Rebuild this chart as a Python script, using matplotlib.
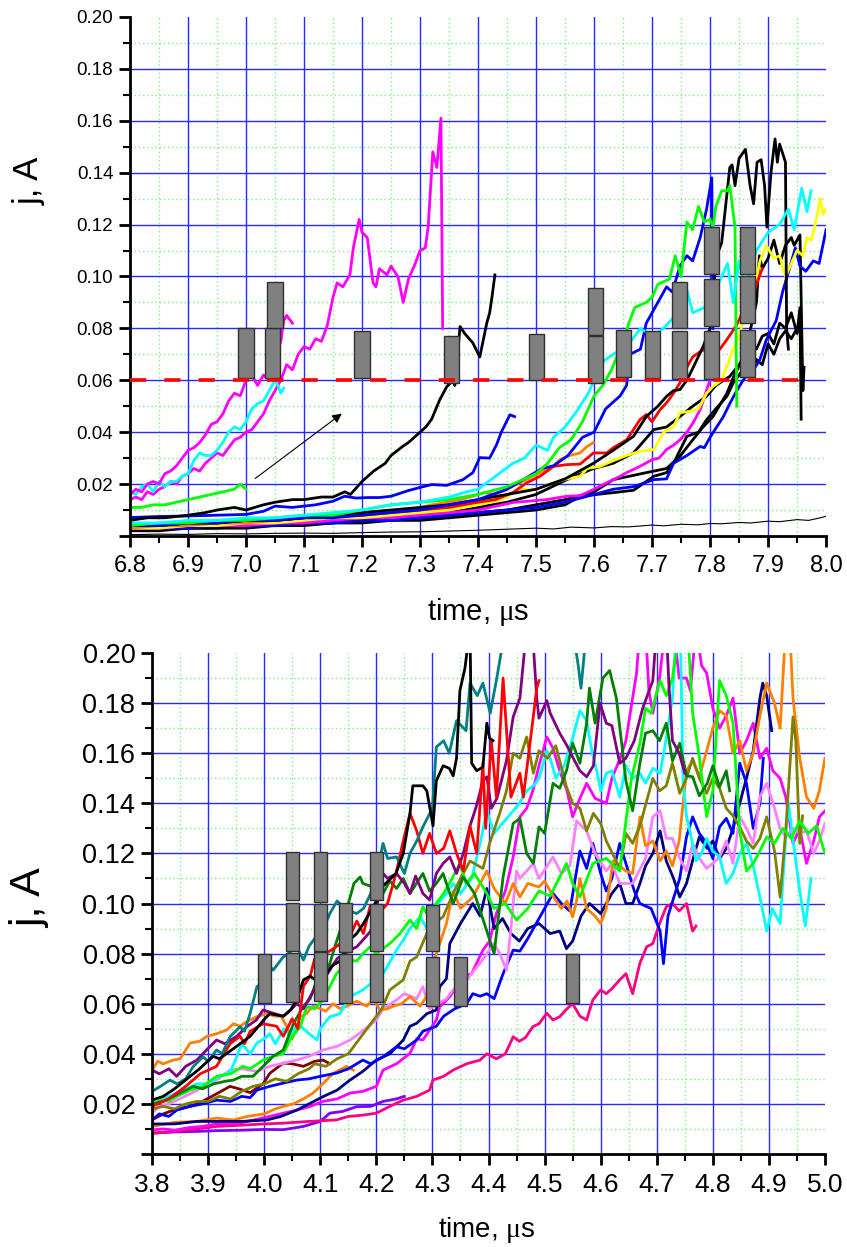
import numpy as np
import matplotlib
matplotlib.use("Agg")
import matplotlib.pyplot as plt
from matplotlib.ticker import MultipleLocator, FuncFormatter
from matplotlib.patches import Rectangle

plt.rcParams['font.family'] = ['Liberation Sans', 'DejaVu Sans']
plt.rcParams['mathtext.fontset'] = 'custom'
plt.rcParams['mathtext.rm'] = 'Liberation Serif'

# ---------------- upper panel data (time in us, current in A) ----------------
top_thin = [(6.80, 0.0005), (6.85, 0.0007), (6.90, 0.0006), (6.95, 0.0009), (7.00, 0.0008), (7.05, 0.0010),
            (7.10, 0.0011), (7.15, 0.0010), (7.20, 0.0013), (7.25, 0.0015), (7.30, 0.0016), (7.35, 0.0019),
            (7.40, 0.0022), (7.45, 0.0026), (7.50, 0.0030), (7.53, 0.0027), (7.56, 0.0034), (7.60, 0.0031),
            (7.63, 0.0036), (7.66, 0.0035), (7.70, 0.0042), (7.72, 0.0039), (7.75, 0.0045), (7.78, 0.0043),
            (7.80, 0.0048), (7.82, 0.0047), (7.85, 0.0052), (7.87, 0.0050), (7.90, 0.0057), (7.92, 0.0055),
            (7.95, 0.0063), (7.97, 0.0060), (7.99, 0.0070), (8.00, 0.0076)]

top_magenta_a = [(6.80, 0.016), (6.81, 0.018), (6.82, 0.017), (6.83, 0.020), (6.84, 0.021), (6.85, 0.020),
                 (6.86, 0.024), (6.87, 0.025), (6.88, 0.027), (6.89, 0.030), (6.90, 0.033), (6.91, 0.034),
                 (6.92, 0.036), (6.93, 0.039), (6.94, 0.043), (6.95, 0.044), (6.96, 0.047), (6.97, 0.052),
                 (6.98, 0.055), (6.99, 0.054), (7.00, 0.060), (7.01, 0.062), (7.02, 0.058), (7.03, 0.062),
                 (7.04, 0.060), (7.05, 0.066), (7.055, 0.072), (7.06, 0.075), (7.065, 0.083), (7.07, 0.085),
                 (7.08, 0.082)]

top_magenta_b = [(6.80, 0.014), (6.81, 0.015), (6.82, 0.014), (6.83, 0.017), (6.84, 0.016), (6.85, 0.018),
                 (6.86, 0.019), (6.87, 0.021), (6.88, 0.020), (6.89, 0.023), (6.90, 0.024), (6.91, 0.026),
                 (6.92, 0.025), (6.93, 0.028), (6.94, 0.030), (6.95, 0.032), (6.96, 0.031), (6.97, 0.034),
                 (6.98, 0.037), (6.99, 0.038), (7.00, 0.040), (7.01, 0.041), (7.02, 0.044), (7.03, 0.047),
                 (7.04, 0.052), (7.05, 0.056), (7.06, 0.060), (7.07, 0.066), (7.08, 0.064), (7.09, 0.070),
                 (7.10, 0.073), (7.11, 0.072), (7.12, 0.076), (7.13, 0.075), (7.14, 0.081), (7.15, 0.092),
                 (7.157, 0.0975), (7.167, 0.096), (7.179, 0.1006), (7.185, 0.111), (7.195, 0.122), (7.20, 0.117),
                 (7.209, 0.115), (7.219, 0.0975), (7.224, 0.096), (7.23, 0.103), (7.243, 0.1006), (7.25, 0.104),
                 (7.262, 0.0998), (7.271, 0.090), (7.28, 0.099), (7.29, 0.104), (7.30, 0.110), (7.309, 0.111),
                 (7.314, 0.119), (7.322, 0.148), (7.329, 0.142), (7.336, 0.161), (7.339, 0.080)]

top_cyan_a = [(6.80, 0.017), (6.81, 0.016), (6.82, 0.019), (6.83, 0.020), (6.84, 0.017), (6.85, 0.021),
              (6.86, 0.019), (6.87, 0.021), (6.88, 0.021), (6.89, 0.023), (6.90, 0.024), (6.91, 0.029),
              (6.92, 0.032), (6.93, 0.031), (6.94, 0.031), (6.95, 0.033), (6.96, 0.036), (6.97, 0.040),
              (6.98, 0.042), (6.99, 0.041), (7.00, 0.044), (7.01, 0.049), (7.02, 0.051), (7.03, 0.052),
              (7.04, 0.056), (7.05, 0.060), (7.055, 0.058), (7.06, 0.055), (7.065, 0.057)]

top_green_a = [(6.80, 0.011), (6.82, 0.011), (6.84, 0.012), (6.86, 0.012), (6.88, 0.013), (6.90, 0.014),
               (6.92, 0.015), (6.94, 0.016), (6.96, 0.017), (6.98, 0.018), (6.99, 0.020), (7.00, 0.018)]

top_black_a = [(6.80, 0.006), (6.83, 0.007), (6.86, 0.007), (6.90, 0.008), (6.93, 0.009), (6.95, 0.010),
               (6.98, 0.011), (7.00, 0.010), (7.03, 0.012), (7.05, 0.013), (7.08, 0.014), (7.10, 0.014),
               (7.13, 0.015), (7.15, 0.015), (7.17, 0.017), (7.18, 0.016), (7.20, 0.021), (7.22, 0.025),
               (7.24, 0.028), (7.25, 0.031), (7.27, 0.0345), (7.28, 0.036), (7.30, 0.040), (7.31, 0.042),
               (7.32, 0.045), (7.334, 0.0525), (7.346, 0.0575), (7.357, 0.060), (7.36, 0.058), (7.369, 0.0807),
               (7.377, 0.078), (7.391, 0.0744), (7.403, 0.069), (7.415, 0.082), (7.42, 0.086), (7.424, 0.092),
               (7.429, 0.1006)]

top_blue_a = [(6.80, 0.0071), (6.85, 0.0075), (6.90, 0.0077), (6.95, 0.008), (7.00, 0.0083), (7.03, 0.0095),
              (7.05, 0.0115), (7.08, 0.011), (7.10, 0.0115), (7.12, 0.012), (7.15, 0.0134), (7.17, 0.0153),
              (7.19, 0.0146), (7.21, 0.0148), (7.23, 0.0148), (7.25, 0.0153), (7.28, 0.0175), (7.30, 0.0187),
              (7.32, 0.0198), (7.346, 0.0195), (7.374, 0.0217), (7.391, 0.0244), (7.403, 0.0302), (7.42, 0.030),
              (7.432, 0.0352), (7.44, 0.040), (7.455, 0.0467), (7.463, 0.046)]

top_cyan_b = [(6.80, 0.005), (6.85, 0.005), (6.90, 0.006), (6.95, 0.006), (7.00, 0.007), (7.05, 0.007),
              (7.10, 0.008), (7.15, 0.009), (7.20, 0.010), (7.25, 0.012), (7.30, 0.013), (7.35, 0.015),
              (7.38, 0.017), (7.40, 0.018), (7.43, 0.023), (7.46, 0.028), (7.48, 0.030), (7.50, 0.035),
              (7.52, 0.033), (7.53, 0.038), (7.55, 0.042), (7.57, 0.048), (7.59, 0.055), (7.60, 0.060),
              (7.61, 0.066), (7.62, 0.068), (7.64, 0.071), (7.66, 0.074), (7.68, 0.080), (7.70, 0.077),
              (7.72, 0.080), (7.74, 0.085), (7.76, 0.095), (7.77, 0.086), (7.79, 0.088), (7.81, 0.095),
              (7.83, 0.105), (7.84, 0.090), (7.85, 0.106), (7.86, 0.096), (7.88, 0.110), (7.90, 0.117),
              (7.92, 0.120), (7.935, 0.126), (7.945, 0.118), (7.958, 0.134), (7.967, 0.125), (7.974, 0.133)]

top_green_b = [(6.80, 0.004), (6.85, 0.005), (6.90, 0.005), (6.95, 0.006), (7.00, 0.006), (7.05, 0.007),
               (7.10, 0.008), (7.15, 0.008), (7.20, 0.010), (7.25, 0.012), (7.30, 0.013), (7.35, 0.014),
               (7.40, 0.016), (7.45, 0.019), (7.48, 0.022), (7.50, 0.024), (7.52, 0.028), (7.54, 0.034),
               (7.56, 0.037), (7.58, 0.044), (7.60, 0.054), (7.615, 0.058), (7.63, 0.064), (7.65, 0.075),
               (7.66, 0.082), (7.67, 0.088), (7.69, 0.090), (7.70, 0.092), (7.71, 0.097), (7.73, 0.099),
               (7.74, 0.108), (7.75, 0.100), (7.76, 0.121), (7.77, 0.118), (7.78, 0.127), (7.79, 0.121),
               (7.80, 0.122), (7.805, 0.119), (7.81, 0.127), (7.82, 0.133), (7.83, 0.133), (7.834, 0.135),
               (7.843, 0.119), (7.846, 0.050)]

top_blue_b = [(6.80, 0.004), (6.85, 0.004), (6.90, 0.005), (6.95, 0.005), (7.00, 0.006), (7.05, 0.006),
              (7.10, 0.007), (7.15, 0.007), (7.20, 0.008), (7.25, 0.009), (7.30, 0.010), (7.35, 0.012),
              (7.40, 0.014), (7.45, 0.018), (7.48, 0.022), (7.51, 0.026), (7.53, 0.027), (7.555, 0.031),
              (7.58, 0.038), (7.60, 0.040), (7.62, 0.049), (7.645, 0.054), (7.656, 0.058), (7.662, 0.070),
              (7.68, 0.072), (7.69, 0.082), (7.70, 0.086), (7.725, 0.096), (7.735, 0.094), (7.748, 0.104),
              (7.76, 0.108), (7.77, 0.106), (7.783, 0.115), (7.794, 0.126), (7.803, 0.138), (7.805, 0.080)]

top_red = [(6.80, 0.004), (6.85, 0.004), (6.90, 0.005), (6.95, 0.005), (7.00, 0.006), (7.05, 0.006),
           (7.10, 0.007), (7.15, 0.008), (7.20, 0.008), (7.25, 0.009), (7.30, 0.010), (7.35, 0.011),
           (7.40, 0.013), (7.43, 0.014), (7.46, 0.0167), (7.484, 0.0205), (7.507, 0.023), (7.53, 0.0268),
           (7.553, 0.0275), (7.576, 0.0277), (7.599, 0.032), (7.622, 0.032), (7.633, 0.034), (7.656, 0.037),
           (7.668, 0.041), (7.679, 0.0448), (7.69, 0.0468), (7.70, 0.044), (7.714, 0.0487), (7.725, 0.0513),
           (7.737, 0.055), (7.748, 0.059), (7.76, 0.065), (7.77, 0.069), (7.783, 0.071), (7.80, 0.073),
           (7.817, 0.072), (7.83, 0.076), (7.845, 0.081), (7.86, 0.088), (7.875, 0.093), (7.88, 0.097),
           (7.89, 0.103)]

top_orange = [(6.80, 0.003), (6.85, 0.004), (6.90, 0.004), (6.95, 0.005), (7.00, 0.005), (7.05, 0.006),
              (7.10, 0.007), (7.15, 0.008), (7.20, 0.009), (7.231, 0.009), (7.26, 0.010), (7.288, 0.0102),
              (7.32, 0.012), (7.346, 0.0129), (7.37, 0.014), (7.391, 0.0153), (7.41, 0.0167), (7.43, 0.016),
              (7.449, 0.0179), (7.472, 0.0205), (7.495, 0.023), (7.518, 0.0256), (7.53, 0.027), (7.541, 0.0294),
              (7.558, 0.031), (7.576, 0.032), (7.588, 0.0345), (7.599, 0.036)]

top_yellow = [(6.80, 0.003), (6.85, 0.003), (6.90, 0.004), (6.95, 0.004), (7.00, 0.005), (7.05, 0.005),
              (7.10, 0.006), (7.15, 0.007), (7.20, 0.007), (7.25, 0.008), (7.30, 0.009), (7.35, 0.010),
              (7.40, 0.012), (7.44, 0.014), (7.472, 0.0179), (7.50, 0.018), (7.53, 0.0205), (7.553, 0.022),
              (7.576, 0.023), (7.588, 0.026), (7.61, 0.0268), (7.633, 0.029), (7.656, 0.031), (7.679, 0.0326),
              (7.703, 0.0333), (7.72, 0.040), (7.737, 0.042), (7.748, 0.0475), (7.765, 0.048), (7.78, 0.049),
              (7.794, 0.055), (7.805, 0.0576), (7.82, 0.060), (7.83, 0.066), (7.84, 0.072), (7.85, 0.077),
              (7.86, 0.085), (7.87, 0.092), (7.88, 0.099), (7.886, 0.106), (7.897, 0.112), (7.91, 0.107),
              (7.92, 0.108), (7.93, 0.100), (7.938, 0.104), (7.95, 0.110), (7.96, 0.108), (7.967, 0.115),
              (7.975, 0.114), (7.985, 0.124), (7.99, 0.130), (7.995, 0.124), (8.00, 0.126)]

top_magenta_c = [(6.80, 0.003), (6.85, 0.003), (6.90, 0.004), (6.95, 0.004), (7.00, 0.004), (7.05, 0.005),
                 (7.10, 0.005), (7.15, 0.006), (7.20, 0.007), (7.25, 0.007), (7.30, 0.008), (7.35, 0.009),
                 (7.40, 0.010), (7.46, 0.0129), (7.518, 0.014), (7.553, 0.0153), (7.576, 0.0155), (7.599, 0.0179),
                 (7.622, 0.0205), (7.645, 0.023), (7.656, 0.0244), (7.679, 0.0268), (7.70, 0.0294), (7.712, 0.030),
                 (7.725, 0.0333), (7.737, 0.035), (7.748, 0.037), (7.76, 0.040), (7.771, 0.0437), (7.783, 0.0487),
                 (7.788, 0.052), (7.796, 0.0576), (7.80, 0.060)]

top_blue_c = [(6.80, 0.003), (6.85, 0.003), (6.90, 0.003), (6.95, 0.004), (7.00, 0.004), (7.05, 0.004),
              (7.10, 0.005), (7.15, 0.005), (7.20, 0.006), (7.25, 0.006), (7.30, 0.007), (7.35, 0.008),
              (7.40, 0.009), (7.45, 0.010), (7.50, 0.011), (7.55, 0.013), (7.60, 0.016), (7.633, 0.018),
              (7.668, 0.019), (7.703, 0.0217), (7.725, 0.022), (7.737, 0.028), (7.76, 0.031), (7.783, 0.0345),
              (7.79, 0.034), (7.80, 0.038), (7.81, 0.0415), (7.823, 0.046), (7.834, 0.051), (7.846, 0.056),
              (7.857, 0.060), (7.864, 0.062), (7.875, 0.064), (7.886, 0.068), (7.897, 0.0756), (7.914, 0.083),
              (7.925, 0.094), (7.938, 0.104), (7.947, 0.111), (7.955, 0.104), (7.965, 0.102), (7.978, 0.106),
              (7.988, 0.105), (8.00, 0.118)]

top_black_b = [(6.80, 0.004), (6.85, 0.004), (6.90, 0.005), (6.95, 0.005), (7.00, 0.006), (7.05, 0.006),
               (7.10, 0.007), (7.15, 0.008), (7.20, 0.009), (7.25, 0.010), (7.30, 0.011), (7.35, 0.012),
               (7.40, 0.014), (7.45, 0.016), (7.50, 0.018), (7.55, 0.022), (7.599, 0.028), (7.633, 0.033),
               (7.668, 0.0384), (7.69, 0.046), (7.71, 0.050), (7.725, 0.0538), (7.737, 0.056), (7.748, 0.0564),
               (7.76, 0.060), (7.771, 0.065), (7.788, 0.073), (7.80, 0.080), (7.811, 0.1076), (7.82, 0.113),
               (7.834, 0.142), (7.838, 0.143), (7.843, 0.135), (7.85, 0.1455), (7.861, 0.149), (7.869, 0.135),
               (7.875, 0.128), (7.881, 0.144), (7.888, 0.145), (7.894, 0.135), (7.898, 0.119), (7.905, 0.140),
               (7.912, 0.153), (7.916, 0.144), (7.92, 0.151), (7.93, 0.144), (7.932, 0.080), (7.935, 0.072)]

top_black_c = [(6.80, 0.003), (6.85, 0.003), (6.90, 0.004), (6.95, 0.004), (7.00, 0.005), (7.05, 0.005),
               (7.10, 0.006), (7.15, 0.006), (7.20, 0.007), (7.25, 0.007), (7.30, 0.008), (7.35, 0.009),
               (7.40, 0.011), (7.45, 0.013), (7.50, 0.016), (7.553, 0.0217), (7.599, 0.026), (7.633, 0.028),
               (7.668, 0.032), (7.703, 0.041), (7.725, 0.042), (7.748, 0.046), (7.77, 0.050), (7.794, 0.0538),
               (7.81, 0.058), (7.834, 0.0615), (7.85, 0.066), (7.86, 0.068), (7.87, 0.073), (7.88, 0.072),
               (7.89, 0.077), (7.90, 0.078), (7.91, 0.074), (7.92, 0.082), (7.93, 0.080), (7.94, 0.086),
               (7.95, 0.078), (7.955, 0.088), (7.957, 0.045)]

top_black_d = [(6.80, 0.002), (6.85, 0.003), (6.90, 0.003), (6.95, 0.003), (7.00, 0.004), (7.05, 0.004),
               (7.10, 0.005), (7.15, 0.005), (7.20, 0.006), (7.25, 0.006), (7.30, 0.007), (7.35, 0.008),
               (7.40, 0.009), (7.45, 0.010), (7.50, 0.012), (7.55, 0.014), (7.60, 0.017), (7.633, 0.0217),
               (7.69, 0.0244), (7.725, 0.026), (7.748, 0.0307), (7.77, 0.037), (7.788, 0.042), (7.805, 0.046),
               (7.829, 0.055), (7.84, 0.061), (7.855, 0.068), (7.87, 0.080), (7.88, 0.090), (7.885, 0.108),
               (7.89, 0.103), (7.90, 0.107), (7.91, 0.114), (7.92, 0.105), (7.93, 0.112), (7.94, 0.115),
               (7.945, 0.112), (7.955, 0.116), (7.96, 0.056), (7.962, 0.065)]

top_black_e = [(6.80, 0.002), (6.85, 0.002), (6.90, 0.003), (6.95, 0.003), (7.00, 0.003), (7.05, 0.004),
               (7.10, 0.004), (7.15, 0.005), (7.20, 0.005), (7.25, 0.006), (7.30, 0.006), (7.35, 0.007),
               (7.40, 0.008), (7.45, 0.009), (7.50, 0.010), (7.55, 0.012), (7.576, 0.0153), (7.633, 0.0167),
               (7.668, 0.0176), (7.703, 0.023), (7.725, 0.0244), (7.737, 0.028), (7.76, 0.0384), (7.78, 0.040),
               (7.794, 0.0448), (7.81, 0.049), (7.829, 0.0538), (7.84, 0.059), (7.86, 0.065), (7.87, 0.062),
               (7.88, 0.068), (7.89, 0.066), (7.90, 0.074), (7.91, 0.070), (7.92, 0.076), (7.93, 0.079),
               (7.94, 0.076), (7.95, 0.080)]

# gray markers: (centre time, bottom, top)
top_boxes = [(7.000, 0.061, 0.080), (7.045, 0.061, 0.080), (7.050, 0.080, 0.098), (7.200, 0.061, 0.079),
             (7.355, 0.059, 0.077), (7.500, 0.060, 0.078), (7.603, 0.0775, 0.0955), (7.603, 0.059, 0.077),
             (7.651, 0.0614, 0.0795), (7.700, 0.061, 0.079), (7.748, 0.080, 0.098), (7.748, 0.0606, 0.079),
             (7.803, 0.101, 0.119), (7.803, 0.081, 0.099), (7.803, 0.0606, 0.079), (7.865, 0.101, 0.119),
             (7.865, 0.082, 0.100), (7.865, 0.0614, 0.0795)]
top_threshold = 0.06

# ---------------- lower panel data ----------------
bot_teal = [(3.80, 0.025), (3.815, 0.027), (3.832, 0.0295), (3.845, 0.028), (3.86, 0.030), (3.873, 0.0348),
            (3.891, 0.0388), (3.90, 0.037), (3.915, 0.0415), (3.925, 0.040), (3.939, 0.0468), (3.957, 0.0508),
            (3.965, 0.049), (3.975, 0.0562), (3.987, 0.0668), (3.99, 0.067), (4.001, 0.0774), (4.016, 0.0734),
            (4.034, 0.0787), (4.04, 0.0795), (4.058, 0.0827), (4.07, 0.0774), (4.08, 0.083), (4.09, 0.086),
            (4.105, 0.0894), (4.117, 0.096), (4.13, 0.101), (4.141, 0.0987), (4.152, 0.097), (4.165, 0.096),
            (4.177, 0.098), (4.19, 0.104), (4.20, 0.112), (4.212, 0.124), (4.22, 0.118), (4.236, 0.1186),
            (4.25, 0.112), (4.26, 0.120), (4.272, 0.125), (4.283, 0.1306), (4.30, 0.138), (4.307, 0.1625),
            (4.32, 0.165), (4.33, 0.160), (4.343, 0.173), (4.36, 0.169), (4.367, 0.188), (4.38, 0.183),
            (4.39, 0.188), (4.403, 0.176), (4.414, 0.189), (4.43, 0.21), (4.55, 0.21), (4.56, 0.195),
            (4.565, 0.186), (4.575, 0.21)]

bot_black = [(3.80, 0.0215), (3.82, 0.023), (3.84, 0.026), (3.868, 0.031), (3.882, 0.0335), (3.909, 0.039),
             (3.92, 0.038), (3.951, 0.043), (3.975, 0.047), (3.999, 0.0535), (4.01, 0.056), (4.034, 0.055),
             (4.047, 0.0575), (4.058, 0.0615), (4.07, 0.0695), (4.082, 0.071), (4.10, 0.068), (4.12, 0.075),
             (4.135, 0.077), (4.15, 0.085), (4.165, 0.088), (4.177, 0.092), (4.19, 0.097), (4.20, 0.101),
             (4.212, 0.107), (4.235, 0.112), (4.248, 0.120), (4.26, 0.136), (4.265, 0.147), (4.283, 0.147),
             (4.29, 0.145), (4.301, 0.131), (4.307, 0.149), (4.319, 0.155), (4.33, 0.154), (4.337, 0.151),
             (4.343, 0.158), (4.349, 0.185), (4.358, 0.194), (4.367, 0.21), (4.37, 0.156), (4.379, 0.153),
             (4.39, 0.1545), (4.397, 0.172), (4.402, 0.166), (4.408, 0.165)]

bot_red = [(3.80, 0.019), (3.83, 0.022), (3.86, 0.027), (3.886, 0.032), (3.915, 0.035), (3.939, 0.044),
           (3.957, 0.047), (3.965, 0.044), (3.975, 0.049), (3.998, 0.052), (4.022, 0.051), (4.034, 0.047),
           (4.05, 0.054), (4.06, 0.050), (4.07, 0.067), (4.082, 0.071), (4.09, 0.078), (4.11, 0.080),
           (4.13, 0.083), (4.153, 0.087), (4.165, 0.093), (4.177, 0.088), (4.189, 0.099), (4.204, 0.096),
           (4.22, 0.100), (4.235, 0.112), (4.248, 0.125), (4.26, 0.136), (4.272, 0.129), (4.283, 0.120),
           (4.295, 0.128), (4.307, 0.120), (4.32, 0.122), (4.331, 0.129), (4.343, 0.120), (4.355, 0.113),
           (4.367, 0.131), (4.379, 0.120), (4.39, 0.156), (4.395, 0.130), (4.405, 0.165), (4.414, 0.1425),
           (4.426, 0.190), (4.44, 0.1425), (4.456, 0.152), (4.462, 0.1425), (4.479, 0.173), (4.486, 0.186),
           (4.49, 0.189)]

bot_purple = [(3.80, 0.0335), (3.813, 0.032), (3.83, 0.034), (3.844, 0.031), (3.86, 0.035), (3.88, 0.0375),
              (3.897, 0.0415), (3.915, 0.0455), (3.93, 0.044), (3.951, 0.047), (3.969, 0.0508), (3.986, 0.0535),
              (3.998, 0.0575), (4.016, 0.0562), (4.034, 0.055), (4.04, 0.056), (4.058, 0.060), (4.07, 0.058),
              (4.09, 0.066), (4.11, 0.071), (4.13, 0.078), (4.153, 0.0814), (4.165, 0.0827), (4.176, 0.0854),
              (4.19, 0.089), (4.20, 0.098), (4.212, 0.112), (4.22, 0.110), (4.236, 0.112), (4.25, 0.108),
              (4.26, 0.104), (4.27, 0.111), (4.283, 0.104), (4.295, 0.1014), (4.307, 0.112), (4.319, 0.116),
              (4.331, 0.1186), (4.343, 0.112), (4.355, 0.120), (4.367, 0.131), (4.378, 0.1386), (4.39, 0.149),
              (4.397, 0.1506), (4.405, 0.138), (4.415, 0.142), (4.432, 0.157), (4.444, 0.1745), (4.456, 0.182),
              (4.468, 0.21), (4.478, 0.21), (4.486, 0.182), (4.49, 0.174), (4.504, 0.181), (4.51, 0.176),
              (4.527, 0.168), (4.54, 0.163), (4.55, 0.1585), (4.563, 0.153), (4.575, 0.1506), (4.587, 0.155),
              (4.599, 0.180), (4.61, 0.172), (4.62, 0.171), (4.634, 0.156), (4.645, 0.158), (4.66, 0.165),
              (4.675, 0.178), (4.693, 0.189), (4.70, 0.21), (4.717, 0.21), (4.722, 0.186), (4.728, 0.165),
              (4.74, 0.160), (4.75, 0.152)]

bot_lime = [(3.80, 0.019), (3.815, 0.0215), (3.83, 0.021), (3.844, 0.023), (3.868, 0.0255), (3.89, 0.027),
            (3.915, 0.031), (3.94, 0.032), (3.962, 0.035), (3.975, 0.034), (3.998, 0.0375), (4.016, 0.039),
            (4.034, 0.040), (4.046, 0.0455), (4.064, 0.0508), (4.076, 0.0588), (4.09, 0.058), (4.105, 0.0615),
            (4.117, 0.0668), (4.129, 0.072), (4.153, 0.0774), (4.165, 0.077), (4.176, 0.080), (4.189, 0.0827),
            (4.20, 0.080), (4.224, 0.084), (4.242, 0.088), (4.26, 0.0934), (4.272, 0.090), (4.283, 0.0987),
            (4.29, 0.096), (4.30, 0.098), (4.32, 0.104), (4.335, 0.110), (4.349, 0.116), (4.36, 0.108),
            (4.375, 0.112), (4.397, 0.104), (4.41, 0.098), (4.43, 0.100), (4.45, 0.0934), (4.47, 0.098),
            (4.49, 0.105), (4.51, 0.103), (4.539, 0.116), (4.55, 0.108), (4.563, 0.1026), (4.586, 0.116),
            (4.61, 0.118), (4.634, 0.113), (4.646, 0.1346), (4.655, 0.150), (4.67, 0.164), (4.68, 0.178),
            (4.69, 0.176), (4.706, 0.189), (4.717, 0.183), (4.728, 0.190), (4.74, 0.21), (4.755, 0.21),
            (4.764, 0.176), (4.775, 0.160), (4.789, 0.1346), (4.80, 0.145), (4.812, 0.189), (4.824, 0.183),
            (4.836, 0.172), (4.848, 0.129), (4.86, 0.113), (4.872, 0.116), (4.884, 0.121), (4.896, 0.1266),
            (4.91, 0.124), (4.925, 0.130), (4.94, 0.126), (4.955, 0.133), (4.97, 0.128), (4.985, 0.131),
            (5.00, 0.120)]

bot_dkgreen = [(3.80, 0.020), (3.82, 0.021), (3.838, 0.023), (3.856, 0.025), (3.874, 0.027), (3.89, 0.026),
               (3.91, 0.028), (3.93, 0.029), (3.945, 0.0295), (3.96, 0.031), (3.98, 0.031), (3.998, 0.035),
               (4.016, 0.039), (4.034, 0.0415), (4.052, 0.052), (4.07, 0.059), (4.082, 0.062), (4.094, 0.0695),
               (4.105, 0.072), (4.117, 0.076), (4.125, 0.082), (4.135, 0.089), (4.15, 0.100), (4.16, 0.108),
               (4.171, 0.1106), (4.176, 0.108), (4.194, 0.1066), (4.212, 0.104), (4.224, 0.109), (4.236, 0.106),
               (4.248, 0.110), (4.26, 0.104), (4.283, 0.112), (4.295, 0.105), (4.307, 0.108), (4.319, 0.112),
               (4.337, 0.100), (4.355, 0.1106), (4.375, 0.104), (4.397, 0.089), (4.41, 0.080), (4.426, 0.1106),
               (4.444, 0.132), (4.456, 0.134), (4.468, 0.120), (4.48, 0.116), (4.49, 0.1306), (4.50, 0.128),
               (4.515, 0.148), (4.527, 0.146), (4.539, 0.153), (4.55, 0.164), (4.563, 0.156), (4.575, 0.172),
               (4.58, 0.186), (4.59, 0.172), (4.604, 0.190), (4.616, 0.193), (4.628, 0.182), (4.639, 0.161),
               (4.645, 0.149), (4.657, 0.137), (4.67, 0.156), (4.68, 0.168), (4.693, 0.169), (4.705, 0.165),
               (4.717, 0.172), (4.728, 0.157), (4.741, 0.164), (4.753, 0.151), (4.764, 0.1506), (4.776, 0.143),
               (4.79, 0.148), (4.80, 0.155), (4.812, 0.1466), (4.824, 0.153), (4.83, 0.145)]

bot_olive = [(3.80, 0.018), (3.82, 0.019), (3.84, 0.018), (3.86, 0.020), (3.88, 0.021), (3.90, 0.021),
             (3.92, 0.023), (3.94, 0.022), (3.96, 0.025), (3.98, 0.027), (4.00, 0.028), (4.02, 0.030),
             (4.04, 0.029), (4.06, 0.032), (4.08, 0.034), (4.09, 0.036), (4.11, 0.035), (4.13, 0.038),
             (4.15, 0.040), (4.17, 0.046), (4.19, 0.052), (4.21, 0.058), (4.224, 0.0655), (4.248, 0.0695),
             (4.26, 0.077), (4.272, 0.0787), (4.295, 0.0907), (4.319, 0.0947), (4.337, 0.104), (4.35, 0.110),
             (4.367, 0.117), (4.39, 0.114), (4.402, 0.124), (4.42, 0.136), (4.432, 0.145), (4.444, 0.160),
             (4.456, 0.158), (4.468, 0.1665), (4.48, 0.152), (4.49, 0.161), (4.505, 0.158), (4.52, 0.163),
             (4.539, 0.1466), (4.55, 0.140), (4.563, 0.138), (4.575, 0.129), (4.587, 0.136), (4.60, 0.132),
             (4.61, 0.125), (4.634, 0.114), (4.645, 0.128), (4.657, 0.124), (4.67, 0.131), (4.693, 0.150),
             (4.705, 0.145), (4.717, 0.147), (4.728, 0.156), (4.741, 0.144), (4.753, 0.150), (4.764, 0.158),
             (4.776, 0.150), (4.789, 0.144), (4.80, 0.150), (4.812, 0.146), (4.824, 0.138), (4.836, 0.135),
             (4.848, 0.1306), (4.86, 0.125), (4.872, 0.122), (4.884, 0.126), (4.896, 0.1346), (4.91, 0.121),
             (4.92, 0.1026), (4.93, 0.129), (4.943, 0.1745), (4.948, 0.165), (4.955, 0.124), (4.96, 0.135)]

bot_cyan = [(3.80, 0.020), (3.82, 0.022), (3.84, 0.024), (3.86, 0.026), (3.88, 0.028), (3.90, 0.028),
            (3.92, 0.031), (3.94, 0.033), (3.951, 0.0388), (3.96, 0.044), (3.975, 0.040), (3.987, 0.0443),
            (4.00, 0.046), (4.01, 0.048), (4.02, 0.044), (4.035, 0.050), (4.046, 0.047), (4.06, 0.052),
            (4.075, 0.049), (4.094, 0.0455), (4.10, 0.050), (4.117, 0.0548), (4.135, 0.056), (4.153, 0.0628),
            (4.176, 0.0655), (4.19, 0.068), (4.212, 0.072), (4.22, 0.075), (4.236, 0.0814), (4.248, 0.0854),
            (4.26, 0.090), (4.278, 0.0947), (4.29, 0.090), (4.31, 0.100), (4.325, 0.104), (4.337, 0.108),
            (4.35, 0.104), (4.37, 0.110), (4.385, 0.124), (4.397, 0.137), (4.41, 0.128), (4.425, 0.132),
            (4.444, 0.137), (4.455, 0.140), (4.468, 0.145), (4.48, 0.147), (4.49, 0.150), (4.504, 0.161),
            (4.51, 0.158), (4.52, 0.150), (4.535, 0.155), (4.55, 0.166), (4.563, 0.177), (4.575, 0.173),
            (4.585, 0.160), (4.593, 0.153), (4.60, 0.145), (4.61, 0.152), (4.62, 0.153), (4.634, 0.1426),
            (4.645, 0.155), (4.657, 0.150), (4.67, 0.152), (4.68, 0.148), (4.693, 0.154), (4.706, 0.152),
            (4.717, 0.166), (4.728, 0.182), (4.735, 0.21), (4.742, 0.21), (4.747, 0.148), (4.753, 0.135),
            (4.76, 0.128), (4.77, 0.117), (4.78, 0.120), (4.789, 0.126), (4.80, 0.121), (4.812, 0.1186),
            (4.824, 0.108), (4.836, 0.112), (4.848, 0.120), (4.86, 0.124), (4.872, 0.115), (4.884, 0.1026),
            (4.896, 0.089), (4.906, 0.098), (4.92, 0.092), (4.93, 0.1266), (4.935, 0.140), (4.945, 0.122),
            (4.955, 0.105), (4.965, 0.091), (4.975, 0.110)]

bot_orange = [(3.80, 0.0335), (3.81, 0.037), (3.82, 0.036), (3.838, 0.0375), (3.85, 0.038), (3.868, 0.0443),
              (3.885, 0.045), (3.898, 0.047), (3.915, 0.048), (3.933, 0.0495), (3.945, 0.052), (3.957, 0.051),
              (3.97, 0.053), (3.987, 0.0548), (4.004, 0.056), (4.02, 0.055), (4.03, 0.055), (4.04, 0.051),
              (4.05, 0.046), (4.064, 0.0548), (4.075, 0.056), (4.087, 0.059), (4.10, 0.058), (4.11, 0.057),
              (4.123, 0.060), (4.135, 0.058), (4.147, 0.059), (4.165, 0.061), (4.183, 0.059), (4.195, 0.062),
              (4.206, 0.0575), (4.22, 0.058), (4.23, 0.059), (4.245, 0.060), (4.26, 0.0628), (4.278, 0.059),
              (4.29, 0.063), (4.301, 0.076), (4.313, 0.084), (4.325, 0.092), (4.337, 0.105), (4.35, 0.098),
              (4.372, 0.1026), (4.385, 0.108), (4.397, 0.113), (4.41, 0.106), (4.43, 0.100), (4.444, 0.108),
              (4.456, 0.1026), (4.47, 0.108), (4.49, 0.1066), (4.50, 0.109), (4.515, 0.103), (4.53, 0.098),
              (4.54, 0.101), (4.55, 0.0947), (4.557, 0.101), (4.563, 0.110), (4.575, 0.098), (4.59, 0.095),
              (4.60, 0.092), (4.61, 0.098), (4.622, 0.117), (4.634, 0.115), (4.645, 0.113), (4.657, 0.112),
              (4.67, 0.1346), (4.68, 0.123), (4.693, 0.125), (4.706, 0.117), (4.717, 0.121), (4.728, 0.115),
              (4.74, 0.125), (4.753, 0.153), (4.764, 0.157), (4.776, 0.1506), (4.789, 0.161), (4.80, 0.170),
              (4.812, 0.177), (4.824, 0.175), (4.836, 0.160), (4.848, 0.165), (4.86, 0.153), (4.872, 0.160),
              (4.884, 0.175), (4.896, 0.188), (4.91, 0.180), (4.92, 0.170), (4.93, 0.21), (4.937, 0.21),
              (4.943, 0.182), (4.955, 0.158), (4.967, 0.1426), (4.98, 0.138), (4.99, 0.145), (4.996, 0.153),
              (5.00, 0.158)]

bot_violet = [(3.80, 0.0163), (3.813, 0.019), (3.83, 0.020), (3.844, 0.0215), (3.868, 0.024), (3.891, 0.0268),
              (3.915, 0.0295), (3.939, 0.0335), (3.96, 0.034), (3.987, 0.033), (4.01, 0.035), (4.03, 0.036),
              (4.058, 0.0375), (4.08, 0.039), (4.105, 0.0415), (4.13, 0.043), (4.153, 0.0455), (4.175, 0.049),
              (4.20, 0.0535), (4.212, 0.058), (4.236, 0.0615), (4.25, 0.064), (4.272, 0.062), (4.283, 0.0668),
              (4.295, 0.058), (4.31, 0.060), (4.325, 0.062), (4.337, 0.0655), (4.361, 0.0695), (4.385, 0.0762),
              (4.397, 0.080), (4.41, 0.084), (4.42, 0.080), (4.432, 0.0734), (4.44, 0.090), (4.444, 0.100),
              (4.45, 0.113), (4.456, 0.110), (4.48, 0.116), (4.49, 0.110), (4.515, 0.1186), (4.53, 0.112),
              (4.545, 0.115), (4.557, 0.133), (4.575, 0.129), (4.59, 0.120), (4.61, 0.113), (4.62, 0.116),
              (4.634, 0.108), (4.657, 0.108), (4.68, 0.118), (4.693, 0.1346), (4.706, 0.137), (4.717, 0.126),
              (4.728, 0.126), (4.741, 0.118), (4.753, 0.113), (4.764, 0.124), (4.776, 0.118), (4.789, 0.114),
              (4.80, 0.116), (4.812, 0.1186), (4.824, 0.125), (4.836, 0.116), (4.848, 0.1346), (4.86, 0.130),
              (4.872, 0.124), (4.884, 0.1426), (4.896, 0.148), (4.91, 0.138), (4.92, 0.130), (4.93, 0.1266),
              (4.943, 0.130), (4.955, 0.128), (4.967, 0.129), (4.98, 0.120), (4.99, 0.125), (5.00, 0.132)]

bot_blue = [(3.80, 0.0136), (3.813, 0.016), (3.83, 0.015), (3.844, 0.0175), (3.868, 0.019), (3.89, 0.020),
            (3.915, 0.0215), (3.94, 0.021), (3.96, 0.023), (3.975, 0.0225), (3.987, 0.0255), (4.01, 0.027),
            (4.034, 0.0283), (4.058, 0.0295), (4.08, 0.030), (4.10, 0.031), (4.129, 0.0323), (4.15, 0.034),
            (4.176, 0.0375), (4.19, 0.036), (4.212, 0.0388), (4.236, 0.0428), (4.25, 0.042), (4.272, 0.0455),
            (4.283, 0.049), (4.307, 0.051), (4.32, 0.055), (4.34, 0.058), (4.361, 0.060), (4.372, 0.064),
            (4.385, 0.063), (4.397, 0.064), (4.41, 0.062), (4.426, 0.072), (4.444, 0.0814), (4.456, 0.081),
            (4.47, 0.086), (4.485, 0.092), (4.50, 0.098), (4.515, 0.104), (4.53, 0.100), (4.545, 0.097),
            (4.563, 0.121), (4.575, 0.114), (4.586, 0.124), (4.60, 0.112), (4.61, 0.105), (4.62, 0.110),
            (4.634, 0.124), (4.645, 0.116), (4.66, 0.105), (4.67, 0.100), (4.69, 0.098), (4.706, 0.089),
            (4.712, 0.076), (4.72, 0.095), (4.741, 0.110), (4.753, 0.1266), (4.764, 0.1346), (4.776, 0.128),
            (4.789, 0.124), (4.80, 0.118), (4.812, 0.1306), (4.824, 0.134), (4.836, 0.128), (4.848, 0.156),
            (4.86, 0.148), (4.872, 0.130), (4.884, 0.140), (4.89, 0.158)]

bot_navy = [(3.80, 0.012), (3.84, 0.012), (3.88, 0.013), (3.92, 0.013), (3.96, 0.013), (4.005, 0.0136),
            (4.03, 0.015), (4.058, 0.0175), (4.08, 0.020), (4.105, 0.0229), (4.13, 0.0255), (4.153, 0.0295),
            (4.176, 0.033), (4.20, 0.0375), (4.224, 0.040), (4.248, 0.0455), (4.26, 0.051), (4.272, 0.0522),
            (4.29, 0.056), (4.307, 0.0575), (4.313, 0.0668), (4.325, 0.070), (4.331, 0.084), (4.35, 0.092),
            (4.372, 0.100), (4.385, 0.095), (4.397, 0.106), (4.41, 0.090), (4.425, 0.094), (4.44, 0.088),
            (4.455, 0.085), (4.47, 0.090), (4.49, 0.092), (4.51, 0.088), (4.527, 0.089), (4.539, 0.082),
            (4.55, 0.085), (4.565, 0.095), (4.58, 0.100), (4.60, 0.096), (4.62, 0.104), (4.634, 0.108),
            (4.645, 0.100), (4.657, 0.100), (4.67, 0.108), (4.68, 0.115), (4.693, 0.120), (4.706, 0.129),
            (4.717, 0.117), (4.73, 0.110), (4.741, 0.1026), (4.753, 0.108), (4.765, 0.118), (4.776, 0.1266),
            (4.79, 0.122), (4.80, 0.125), (4.812, 0.118), (4.824, 0.122), (4.836, 0.130), (4.848, 0.140),
            (4.86, 0.150), (4.872, 0.161), (4.884, 0.182), (4.889, 0.188), (4.896, 0.183), (4.905, 0.169)]

bot_magenta = [(3.80, 0.0096), (3.82, 0.010), (3.84, 0.0095), (3.868, 0.0106), (3.89, 0.011), (3.915, 0.012),
               (3.94, 0.012), (3.962, 0.0126), (3.99, 0.014), (4.01, 0.015), (4.034, 0.0163), (4.058, 0.0175),
               (4.082, 0.019), (4.105, 0.021), (4.13, 0.022), (4.153, 0.0243), (4.176, 0.025), (4.20, 0.027),
               (4.212, 0.0335), (4.236, 0.036), (4.26, 0.0402), (4.272, 0.046), (4.283, 0.0455), (4.295, 0.0495),
               (4.307, 0.0535), (4.313, 0.0588), (4.331, 0.0628), (4.355, 0.0708), (4.37, 0.072), (4.39, 0.0814),
               (4.402, 0.085), (4.414, 0.096), (4.43, 0.105), (4.444, 0.1186), (4.456, 0.1346), (4.468, 0.138),
               (4.479, 0.145), (4.49, 0.155), (4.504, 0.1665), (4.515, 0.162), (4.527, 0.153), (4.54, 0.145),
               (4.55, 0.1346), (4.563, 0.142), (4.575, 0.148), (4.59, 0.142), (4.61, 0.140), (4.62, 0.150),
               (4.635, 0.158), (4.645, 0.165), (4.664, 0.192), (4.67, 0.21), (4.68, 0.21), (4.686, 0.185),
               (4.693, 0.176), (4.705, 0.190), (4.715, 0.21), (4.73, 0.21), (4.74, 0.190), (4.753, 0.190),
               (4.76, 0.185), (4.77, 0.21), (4.78, 0.195), (4.789, 0.192), (4.80, 0.178), (4.812, 0.170),
               (4.824, 0.175), (4.836, 0.182), (4.848, 0.160), (4.86, 0.165), (4.872, 0.172), (4.884, 0.158),
               (4.896, 0.162), (4.907, 0.153), (4.92, 0.150), (4.93, 0.1426), (4.943, 0.124), (4.955, 0.130),
               (4.967, 0.116), (4.98, 0.125), (4.99, 0.1346), (5.00, 0.137)]

bot_maroon = [(3.80, 0.0136), (3.82, 0.016), (3.844, 0.018), (3.868, 0.019), (3.89, 0.021), (3.915, 0.024),
              (3.939, 0.027), (3.955, 0.026), (3.975, 0.0245), (3.998, 0.028), (4.01, 0.0322), (4.034, 0.0363),
              (4.05, 0.036), (4.07, 0.035), (4.09, 0.037), (4.105, 0.0375), (4.117, 0.036)]

bot_deeppink = [(3.80, 0.0083), (3.84, 0.009), (3.88, 0.010), (3.915, 0.011), (3.96, 0.0115), (4.00, 0.012),
                (4.034, 0.0123), (4.08, 0.013), (4.129, 0.0136), (4.15, 0.015), (4.176, 0.0155), (4.20, 0.0163),
                (4.224, 0.019), (4.248, 0.0215), (4.272, 0.023), (4.295, 0.0255), (4.301, 0.0295), (4.32, 0.031),
                (4.337, 0.0335), (4.361, 0.036), (4.385, 0.0375), (4.397, 0.040), (4.414, 0.038), (4.43, 0.040),
                (4.444, 0.0468), (4.455, 0.045), (4.466, 0.0465), (4.479, 0.0508), (4.49, 0.052), (4.504, 0.0562),
                (4.515, 0.0535), (4.527, 0.0548), (4.54, 0.058), (4.55, 0.060), (4.563, 0.055), (4.575, 0.0535),
                (4.586, 0.0615), (4.60, 0.0655), (4.61, 0.064), (4.62, 0.066), (4.634, 0.0695), (4.645, 0.072),
                (4.657, 0.064), (4.67, 0.0762), (4.682, 0.0827), (4.693, 0.084), (4.705, 0.092), (4.717, 0.0987),
                (4.728, 0.100), (4.74, 0.097), (4.753, 0.100), (4.764, 0.089), (4.77, 0.091)]

bot_violet2 = [(3.80, 0.0083), (3.84, 0.0088), (3.88, 0.009), (3.915, 0.0093), (3.96, 0.0095), (4.00, 0.0098),
               (4.034, 0.0097), (4.07, 0.011), (4.10, 0.013), (4.117, 0.0163), (4.14, 0.017), (4.165, 0.0189),
               (4.19, 0.019), (4.212, 0.021), (4.236, 0.022), (4.25, 0.023)]

bot_orange2 = [(3.80, 0.011), (3.84, 0.0126), (3.88, 0.013), (3.915, 0.0143), (3.945, 0.0136), (3.97, 0.015),
               (4.00, 0.016), (4.02, 0.018), (4.034, 0.019), (4.052, 0.020), (4.07, 0.022), (4.087, 0.0243),
               (4.10, 0.027), (4.123, 0.0322), (4.147, 0.035), (4.159, 0.0335)]

bot_boxes = [(4.000, 0.0603, 0.0798), (4.050, 0.0608, 0.0804), (4.050, 0.081, 0.1003), (4.050, 0.1014, 0.1207),
             (4.100, 0.061, 0.0805), (4.100, 0.081, 0.100), (4.100, 0.1007, 0.1207), (4.145, 0.0603, 0.0797),
             (4.145, 0.0808, 0.1002), (4.200, 0.0605, 0.0797), (4.200, 0.081, 0.100), (4.200, 0.1014, 0.1207),
             (4.300, 0.0591, 0.0788), (4.300, 0.081, 0.0995), (4.350, 0.0591, 0.0788), (4.550, 0.0603, 0.0797)]


def setup(ax, x0, x1, xsize, ysize):
    ax.set_xlim(x0, x1)
    ax.set_ylim(0, 0.2)
    ax.xaxis.set_major_locator(MultipleLocator(0.1))
    ax.xaxis.set_minor_locator(MultipleLocator(0.05))
    ax.yaxis.set_major_locator(MultipleLocator(0.02))
    ax.yaxis.set_minor_locator(MultipleLocator(0.01))
    ax.yaxis.set_major_formatter(FuncFormatter(lambda v, p: '' if abs(v) < 1e-9 else '%.2f' % v))
    ax.xaxis.set_major_formatter(FuncFormatter(lambda v, p: '%.1f' % v))
    # grid drawn by hand so the lines on the top/right edge are left out
    for xv in np.arange(x0 + 0.05, x1 - 0.01, 0.05):
        major = abs(round(xv * 10) - xv * 10) < 1e-6
        if major:
            ax.axvline(xv, color='#2828ff', lw=1.0, zorder=0.5)
        else:
            ax.axvline(xv, color='#80f080', lw=1.0, ls=(0, (1, 2)), zorder=0.4)
    for yv in np.arange(0.01, 0.195, 0.01):
        if round(yv * 100) % 2 == 0:
            ax.axhline(yv, color='#2828ff', lw=1.0, zorder=0.5)
        else:
            ax.axhline(yv, color='#80f080', lw=1.0, ls=(0, (1, 2)), zorder=0.4)
    ax.spines['top'].set_visible(False)
    ax.spines['right'].set_visible(False)
    ax.spines['left'].set_linewidth(2)
    ax.spines['bottom'].set_linewidth(2)
    ax.tick_params(which='major', direction='out', length=8, width=2)
    ax.tick_params(which='minor', direction='out', length=5, width=1.5)
    ax.tick_params(axis='x', labelsize=xsize, pad=6)
    ax.tick_params(axis='y', labelsize=ysize, pad=4)


def draw(ax, pts, color, lw=2.0):
    x, y = zip(*pts)
    ax.plot(x, y, color=color, lw=lw, zorder=2)


def boxes(ax, items, w):
    for xc, y0, y1 in items:
        ax.add_patch(Rectangle((xc - w / 2, y0), w, y1 - y0, facecolor='#808080',
                               edgecolor='#303030', lw=1.0, zorder=4))


fig = plt.figure(figsize=(8.47, 12.47), dpi=100)

# ---------------- upper panel ----------------
ax1 = fig.add_axes([0.1535, 0.5702, 0.8218, 0.4162])
setup(ax1, 6.8, 8.0, 17, 13.5)
draw(ax1, top_thin, 'black', lw=0.8)
for pts, col in [(top_black_e, 'black'), (top_black_d, 'black'), (top_black_c, 'black'),
                 (top_blue_c, '#0000ff'), (top_magenta_c, '#ff00ff'), (top_yellow, '#ffff00'),
                 (top_orange, '#ff8000'), (top_red, '#ff0000'), (top_black_b, 'black'),
                 (top_blue_b, '#0000ff'), (top_green_b, '#00ff00'), (top_cyan_b, '#00ffff'),
                 (top_blue_a, '#0000ff'), (top_black_a, 'black'), (top_green_a, '#00ff00'),
                 (top_magenta_b, '#ff00ff'), (top_cyan_a, '#00ffff'), (top_magenta_a, '#ff00ff')]:
    draw(ax1, pts, col)
boxes(ax1, top_boxes, 0.026)
ax1.plot([6.8, 7.98], [top_threshold, top_threshold], color='#ff0000', lw=2.6,
         ls=(0, (4.5, 5)), zorder=5)
ax1.annotate('', xy=(7.169, 0.0478), xytext=(7.012, 0.0215),
             arrowprops=dict(arrowstyle='-|>', color='black', lw=0.8, mutation_scale=14), zorder=6)

# ---------------- lower panel ----------------
ax2 = fig.add_axes([0.1795, 0.0746, 0.7945, 0.4017])
setup(ax2, 3.8, 5.0, 19, 19.5)
for pts, col in [(bot_violet2, '#8000ff'), (bot_deeppink, '#ff0080'), (bot_orange2, '#ff8000'),
                 (bot_maroon, '#800000'), (bot_magenta, '#ff00ff'), (bot_navy, '#000080'),
                 (bot_blue, '#0000ff'), (bot_violet, '#ff80ff'), (bot_orange, '#ff8000'),
                 (bot_cyan, '#00ffff'), (bot_olive, '#808000'), (bot_lime, '#00ff00'),
                 (bot_dkgreen, '#008000'), (bot_purple, '#800080'), (bot_red, '#ff0000'),
                 (bot_teal, '#008080'), (bot_black, 'black')]:
    draw(ax2, pts, col)
boxes(ax2, bot_boxes, 0.023)

# axis titles
fig.text(0.035, 0.855, 'j, A', rotation=90, fontsize=25, ha='center', va='center')
fig.text(0.565, 0.509, r'time, $\mathrm{\mu}$s', fontsize=21, ha='center', va='center')
fig.text(0.036, 0.280, 'j, A', rotation=90, fontsize=31, ha='center', va='center')
fig.text(0.575, 0.0135, r'time, $\mathrm{\mu}$s', fontsize=20, ha='center', va='center')

fig.savefig('out.png', dpi=100)
